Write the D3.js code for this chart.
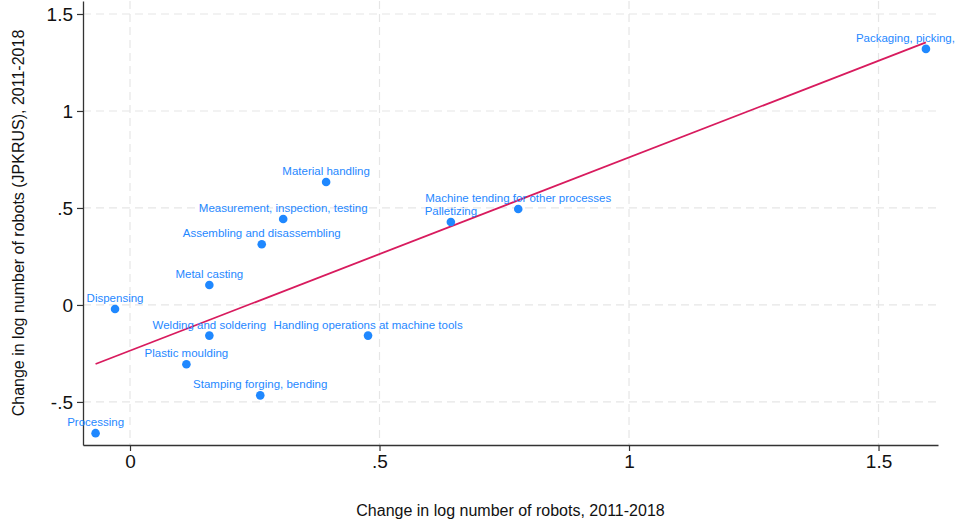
<!DOCTYPE html>
<html>
<head>
<meta charset="utf-8">
<script src="https://cdn.jsdelivr.net/npm/d3@7"></script>
<style>
  body { margin: 0; background: #fff; }
  svg { display: block; font-family: "Liberation Sans", Arial, Helvetica, sans-serif; }
</style>
</head>
<body>
<div id="chart"></div>
<script>
// Application categories (label text as shown)
const categories = [
  "Packaging, picking,",
  "Material handling",
  "Measurement, inspection, testing",
  "Assembling and disassembling",
  "Metal casting",
  "Dispensing",
  "Processing",
  "Welding and soldering",
  "Handling operations at machine tools",
  "Plastic moulding",
  "Stamping forging, bending",
  "Machine tending for other processes",
  "Palletizing"
];
// Change in log number of robots, 2011-2018
const robotChange = [1.595, 0.393, 0.307, 0.264, 0.159, -0.030, -0.069, 0.159, 0.477, 0.113, 0.261, 0.778, 0.643];
// Change in log number of robots (JPKRUS), 2011-2018
const jpkrusChange = [1.320, 0.634, 0.443, 0.313, 0.103, -0.021, -0.661, -0.158, -0.158, -0.306, -0.466, 0.495, 0.428];

const xTicks = [0, 0.5, 1, 1.5];
const xTickLabels = ["0", ".5", "1", "1.5"];
const yTicks = [-0.5, 0, 0.5, 1, 1.5];
const yTickLabels = ["-.5", "0", ".5", "1", "1.5"];

const xTitle = "Change in log number of robots, 2011-2018";
const yTitle = "Change in log number of robots (JPKRUS), 2011-2018";

const svgWidth = 956;
const svgHeight = 525;
const margin = { top: 1, right: 18, bottom: 80, left: 83 };
const width = svgWidth - margin.left - margin.right;
const height = svgHeight - margin.top - margin.bottom;

const blue = "#1f88ff";
const red = "#d81b5e";

const data = categories.map((c, i) => ({ label: c, x: robotChange[i], y: jpkrusChange[i] }));

const svg = d3.select("#chart")
  .append("svg")
  .attr("width", svgWidth)
  .attr("height", svgHeight);

const chartGroup = svg.append("g")
  .attr("transform", `translate(${margin.left}, ${margin.top})`);

const xScale = d3.scaleLinear().domain([-0.0942, 1.6192]).range([0, width]);
const yScale = d3.scaleLinear().domain([-0.722, 1.567]).range([height, 0]);

// dashed grid
chartGroup.append("g")
  .selectAll("line")
  .data(yTicks)
  .join("line")
  .attr("x1", 0).attr("x2", width)
  .attr("y1", d => yScale(d)).attr("y2", d => yScale(d))
  .attr("stroke", "#e6e6e6").attr("stroke-width", 1.2)
  .attr("stroke-dasharray", "8,5");

chartGroup.append("g")
  .selectAll("line")
  .data(xTicks)
  .join("line")
  .attr("y1", 0).attr("y2", height)
  .attr("x1", d => xScale(d)).attr("x2", d => xScale(d))
  .attr("stroke", "#e6e6e6").attr("stroke-width", 1.2)
  .attr("stroke-dasharray", "8,5");

// axes
const bottomAxis = d3.axisBottom(xScale)
  .tickValues(xTicks)
  .tickFormat((d, i) => xTickLabels[i])
  .tickSize(6).tickSizeOuter(0).tickPadding(4);
const leftAxis = d3.axisLeft(yScale)
  .tickValues(yTicks)
  .tickFormat((d, i) => yTickLabels[i])
  .tickSize(6).tickSizeOuter(0).tickPadding(4);

const xAxisG = chartGroup.append("g")
  .attr("transform", `translate(0, ${height})`)
  .call(bottomAxis);
const yAxisG = chartGroup.append("g").call(leftAxis);

[xAxisG, yAxisG].forEach(g => {
  g.select(".domain").attr("stroke", "#333").attr("stroke-width", 1.3);
  g.selectAll(".tick line").attr("stroke", "#333").attr("stroke-width", 1.2);
  g.selectAll(".tick text")
    .attr("fill", "#111")
    .style("font-size", "19px")
    .style("font-family", "\"Liberation Sans\", Arial, sans-serif");
});
yAxisG.selectAll(".tick text").attr("dy", "0.34em");

// fitted line (OLS through the points)
const mx = d3.mean(data, d => d.x);
const my = d3.mean(data, d => d.y);
const slope = d3.sum(data, d => (d.x - mx) * (d.y - my)) / d3.sum(data, d => (d.x - mx) ** 2);
const intercept = my - slope * mx;
const xExt = d3.extent(data, d => d.x);

chartGroup.append("line")
  .attr("x1", xScale(xExt[0])).attr("y1", yScale(intercept + slope * xExt[0]))
  .attr("x2", xScale(xExt[1])).attr("y2", yScale(intercept + slope * xExt[1]))
  .attr("stroke", red).attr("stroke-width", 1.8);

// points
chartGroup.append("g")
  .selectAll("circle")
  .data(data)
  .join("circle")
  .attr("cx", d => xScale(d.x))
  .attr("cy", d => yScale(d.y))
  .attr("r", 4.3)
  .attr("fill", blue);

// labels above points
chartGroup.append("g")
  .selectAll("text")
  .data(data)
  .join("text")
  .attr("x", d => xScale(d.x))
  .attr("y", d => yScale(d.y) - 7)
  .attr("dx", d => d.label.startsWith("Packaging") ? -20.5 : 0)
  .attr("text-anchor", "middle")
  .attr("fill", blue)
  .style("font-size", "11.5px")
  .text(d => d.label);

// axis titles
svg.append("text")
  .attr("x", margin.left + width / 2)
  .attr("y", 516)
  .attr("text-anchor", "middle")
  .attr("fill", "#111")
  .style("font-size", "16px")
  .text(xTitle);

svg.append("text")
  .attr("transform", `translate(24, ${margin.top + height / 2}) rotate(-90)`)
  .attr("text-anchor", "middle")
  .attr("fill", "#111")
  .style("font-size", "16px")
  .text(yTitle);
</script>
</body>
</html>
